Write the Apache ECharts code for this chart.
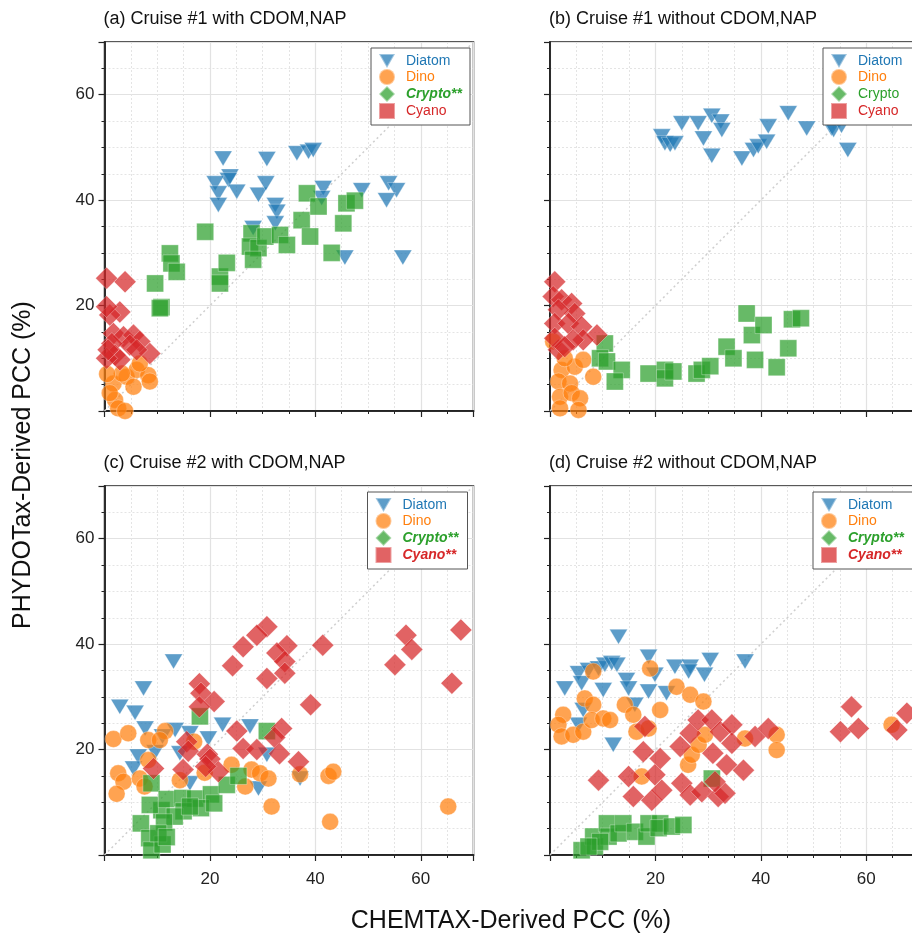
<!DOCTYPE html>
<html>
<head>
<meta charset="utf-8">
<script src="https://cdn.jsdelivr.net/npm/echarts@6/dist/echarts.min.js"></script>
<style>
html, body { margin: 0; padding: 0; background: #fff; }
#chart { width: 912px; height: 937px; }
</style>
</head>
<body>
<div id="chart"></div>
<script>
// axis range and labelled ticks
const axisMin = 0;
const axisMax = 70;
const tickLabels = [20, 40, 60];

// (a) Cruise #1 with CDOM,NAP  [CHEMTAX, PHYDOTax]
const aDiatom = [[22.5,47.9],[30.8,47.8],[36.5,48.9],[38.7,49.2],[39.6,49.5],[23.8,44.5],[23.5,43.8],[21,43.2],[25.1,41.6],[21.6,41.3],[21.6,39.1],[29.2,41],[30.6,43.2],[32.4,39.1],[32.7,37.8],[32.4,35.6],[28.2,34.7],[41.5,42.3],[41.2,40.4],[48.8,41.9],[53.9,43.2],[55.4,41.9],[53.5,40],[45.6,29.1],[56.6,29.1]];
const aDino = [[1.7,5.2],[4.2,6.5],[6.1,7.8],[8.3,6.8],[8.6,5.6],[5.5,4.6],[2,2.1],[1,3.4],[3.3,7.1],[2.6,0.5],[3.9,0],[6.7,9],[0.5,7]];
const aCrypto = [[19.1,34],[12.4,29.9],[12.7,28],[13.7,26.4],[9.6,24.2],[10.8,19.7],[10.5,19.5],[21.9,25.5],[21.9,24.2],[23.2,28.1],[27.9,33.7],[27.6,31.2],[29.2,30.9],[28.2,28.7],[30.5,33.1],[33.3,33.4],[34.6,31.5],[37.4,36.2],[38.4,41.3],[40.6,38.8],[39,33.1],[43.1,30],[45.3,35.6],[45.9,39.4],[47.5,39.9]];
const aCyano = [[3.9,24.5],[0.4,25.2],[2.9,18.8],[1,18.2],[0.4,19.8],[1.7,14.7],[3.6,14.1],[5.5,14.4],[6.7,13.2],[8.6,10.9],[4.8,12.5],[1.4,12.8],[2,10.6],[2.9,9.7],[0.4,10],[0.7,11.6],[6.1,11.6]];

// (b) Cruise #1 without CDOM,NAP
const bDiatom = [[21.2,52.1],[21.8,50.8],[22.8,50.5],[23.7,50.8],[25,54.6],[28.1,54.6],[29.1,51.7],[30.7,56],[30.7,48.4],[32.4,54.9],[32.6,53.3],[36.4,47.9],[38.6,49.5],[39.5,50.2],[41.1,51.1],[41.4,54],[45.2,56.5],[48.7,53.6],[53.4,53.6],[53.8,53.3],[55.3,54.1],[56.5,49.5]];
const bDino = [[2.2,7.8],[4.7,8.4],[6.3,9.7],[8.2,6.5],[1.6,5.6],[3.8,5.2],[1.9,2.7],[4.1,3.4],[5.7,2.4],[1.9,0.5],[5.4,0.2],[2.8,10],[0.6,13.2]];
const bCrypto = [[10.4,12.8],[9.5,10],[10.8,9.4],[13.6,7.8],[12.3,5.6],[18.7,7.1],[21.8,7.8],[21.8,6.2],[23.4,7.5],[27.8,7.1],[28.8,7.8],[30.4,8.5],[33.5,12.2],[34.8,10],[37.3,18.5],[38.3,14.4],[40.5,16.3],[38.9,9.7],[43,8.3],[45.2,11.9],[45.9,17.4],[47.6,17.6]];
const bCyano = [[0.9,24.5],[0.6,21.7],[2.2,21.1],[4.1,20.4],[4.7,18.5],[1.6,19.2],[0.9,16.6],[3.5,16.6],[6,16],[8.9,14.4],[6.3,13.5],[4.4,13.5],[1.6,11.6],[0.9,13.8],[2.8,12.2]];

// (c) Cruise #2 with CDOM,NAP
const cDiatom = [[13.1,36.7],[7.4,31.6],[2.9,28.1],[5.8,27],[7.7,24],[13.4,23.7],[16.2,23.1],[19.7,22.1],[22.4,24.7],[27.6,24.4],[6.4,18.7],[9.6,19.5],[5.5,16.4],[29.2,12.6],[16.2,13.6],[14.3,19.3],[37.1,14.5],[30.8,19],[11,22.5]];
const cDino = [[1.7,22],[4.5,23.1],[8.3,21.8],[11.5,23.5],[10.5,21.8],[2.6,15.5],[3.6,13.9],[2.3,11.6],[6.7,14.5],[8.3,18],[7.6,13],[14.3,14.2],[17,21.5],[19,15.6],[24.1,17.1],[26.7,13],[27.9,16.2],[29.5,15.5],[31.1,14.5],[37.1,15.3],[42.5,15],[43.4,15.8],[31.7,9.2],[42.8,6.3],[65.2,9.2]];
const cCrypto = [[18.1,26.3],[30.8,23.5],[8.9,13.6],[6.9,6],[8.5,3.2],[8.9,0.9],[11,2],[10.8,8.5],[8.6,9.5],[11.8,10.6],[14.8,10.8],[17.2,10.7],[20.2,11.5],[18.3,8.9],[15,8.3],[13.3,7.3],[11.3,6.2],[23.2,13.3],[25.4,15],[20.8,9.8],[16.2,9.2],[10.2,4.1],[11.8,3.4]];
const cCyano = [[30.8,43.3],[28.9,41.7],[26.3,39.5],[34.6,39.7],[32.7,38.3],[34.2,36.7],[34.2,34.5],[30.8,33.5],[24.3,35.9],[41.4,39.8],[57.2,41.7],[58.3,39],[55.1,36.1],[67.6,42.7],[65.9,32.6],[39.1,28.5],[18,32.5],[18.3,30.7],[20.8,29.1],[18,28.1],[25.1,23.5],[33.6,24],[32.3,22.3],[33.2,19.2],[36.8,17.7],[15.6,21.5],[15.9,19.7],[19.5,19.1],[20,18.2],[26.3,20.2],[28.9,20],[9.3,16.4],[14.9,16.2],[21.6,15.8],[19.2,16.8]];

// (d) Cruise #2 without CDOM,NAP
const dDiatom = [[13,41.4],[5.4,34.5],[7.3,35.1],[9.2,35.4],[10.4,36.1],[11.7,36.4],[12.7,36.1],[2.8,31.6],[6,32.6],[10.1,31.3],[14.5,33.2],[14.9,31.6],[18.7,37.6],[19.9,34.2],[18.7,31],[22.1,30.7],[23.7,35.7],[26.6,35.7],[26.3,34.8],[29.3,34.2],[30.4,37],[37,36.7],[12,20.9],[5.4,24.7],[6.3,27.5],[16.1,28.5]];
const dDino = [[8.2,34.8],[19,35.4],[24,31.9],[26.6,30.4],[29.1,29.1],[6.6,29.7],[8.2,28.5],[2.5,26.6],[1.6,24.7],[2.2,22.5],[4.4,22.8],[6.3,23.4],[7.9,25.6],[10.1,25.9],[11.4,25.6],[14.2,28.5],[15.8,26.6],[16.4,23.4],[18.7,24],[20.9,27.5],[26.2,17.1],[26.9,19],[28.2,20.9],[29.4,22.8],[37,22.1],[43,22.8],[43,19.9],[64.8,24.7],[17.4,14.9]];
const dCrypto = [[30.7,14.5],[6,0.9],[8.2,3.5],[8.5,1.6],[10.8,6],[11.1,3.5],[13,4.1],[13.9,6],[16.1,4.4],[18.3,3.5],[18.7,6],[20.9,6],[20.6,5.1],[23.1,5.4],[25.3,5.7],[9.5,2.5],[7.3,1.6]];
const dCyano = [[9.2,14.2],[18,24.4],[17.7,19.6],[20.9,18.3],[14.9,14.9],[19.9,15.2],[15.8,11.1],[19.3,10.4],[21.2,12.3],[25,13.6],[26.6,11.4],[28.8,12],[31.9,11.1],[33.2,11.7],[36.7,16.1],[33.5,17.1],[30.9,19.3],[24.7,20.6],[26.6,23.1],[28.1,25.6],[30.7,25.6],[32.3,23.4],[34.5,24.7],[34.5,21.2],[38.9,22.5],[41.4,24],[57.2,28.1],[55.1,23.4],[58.5,24],[65.8,23.7],[67.7,26.9],[31.3,13.9]];

const FONT = '"Liberation Sans", Arial, Helvetica, sans-serif';
const TRI = 'path://M0,0 L2,0 L1,1.75 Z';

// group styles: plot symbol, legend icon, colours
const groups = [
    { symbol: TRI, size: [18, 15], icon: TRI, fill: 'rgba(31,119,180,0.9)', text: '#1f77b4' },
    { symbol: 'circle', size: 17, icon: 'circle', fill: 'rgba(255,127,14,0.9)', text: '#ff7f0e' },
    { symbol: 'rect', size: 17, icon: 'diamond', fill: 'rgba(44,160,44,0.9)', text: '#2ca02c' },
    { symbol: 'diamond', size: 22, icon: 'rect', fill: 'rgba(214,39,40,0.9)', text: '#d62728' }
];

const panels = [
    { title: '(a) Cruise #1 with CDOM,NAP', left: 104.5, top: 42, showX: false, showY: true, legendX: 266.5, padR: 8,
      names: ['Diatom', 'Dino', 'Crypto**', 'Cyano'], bold: [false, false, true, false],
      data: [aDiatom, aDino, aCrypto, aCyano] },
    { title: '(b) Cruise #1 without CDOM,NAP', left: 550, top: 42, showX: false, showY: false, legendX: 273, padR: 14,
      names: ['Diatom', 'Dino', 'Crypto', 'Cyano'], bold: [false, false, false, false],
      data: [bDiatom, bDino, bCrypto, bCyano] },
    { title: '(c) Cruise #2 with CDOM,NAP', left: 104.5, top: 486, showX: true, showY: true, legendX: 263, padR: 9,
      names: ['Diatom', 'Dino', 'Crypto**', 'Cyano**'], bold: [false, false, true, true],
      data: [cDiatom, cDino, cCrypto, cCyano] },
    { title: '(d) Cruise #2 without CDOM,NAP', left: 550, top: 486, showX: true, showY: false, legendX: 263, padR: 12,
      names: ['Diatom', 'Dino', 'Crypto**', 'Cyano**'], bold: [false, false, true, true],
      data: [dDiatom, dDino, dCrypto, dCyano] }
];

const SIZE = 369;
const grid = [], xAxis = [], yAxis = [], series = [], legend = [], title = [];

const fmt = v => (tickLabels.indexOf(v) >= 0 ? String(v) : '');
const minorAxis = (i, pos) => ({
    gridIndex: i, type: 'value', position: pos, min: axisMin, max: axisMax, interval: 5,
    axisLine: { show: true, onZero: false, lineStyle: { color: '#222', width: 1.5 } },
    axisTick: { show: true, length: 3, lineStyle: { color: '#222', width: 1 } },
    axisLabel: { show: false },
    splitLine: { show: true, lineStyle: { color: '#e4e4e4', width: 1, type: [2, 2] } }
});
const majorAxis = (i, pos, show) => ({
    gridIndex: i, type: 'value', position: pos, min: axisMin, max: axisMax, interval: 20,
    axisLine: { show: true, onZero: false, lineStyle: { color: '#222', width: 1.5 } },
    axisTick: { show: true, length: 6, lineStyle: { color: '#222', width: 1.2 } },
    axisLabel: { show: show, formatter: fmt, fontSize: 17, color: '#222', fontFamily: FONT,
                 margin: pos === 'bottom' ? 16 : 10 },
    splitLine: { show: true, lineStyle: { color: '#e2e2e2', width: 1.2 } }
});

panels.forEach((p, i) => {
    grid.push({ left: p.left, top: p.top, width: SIZE, height: SIZE, show: true,
                outerBoundsMode: 'none', containLabel: false,
                borderColor: '#222', borderWidth: 1.5, backgroundColor: 'transparent' });
    xAxis.push(minorAxis(i, 'bottom'), majorAxis(i, 'bottom', p.showX));
    yAxis.push(minorAxis(i, 'left'), majorAxis(i, 'left', p.showY));
    const xi = 2 * i + 1, yi = 2 * i + 1;
    series.push({
        type: 'line', name: '1:1', xAxisIndex: xi, yAxisIndex: yi, data: [[0, 0], [70, 70]],
        symbol: 'none', silent: true, z: 1,
        lineStyle: { color: '#cfcfcf', width: 1.5, type: [2, 3] }
    });
    p.names.forEach((n, k) => {
        const g = groups[k];
        series.push({
            type: 'scatter', name: n, xAxisIndex: xi, yAxisIndex: yi, data: p.data[k],
            symbol: g.symbol, symbolSize: g.size, clip: true, z: 3,
            itemStyle: { color: g.fill, borderColor: 'rgba(255,255,255,0.5)', borderWidth: 0.8 }
        });
    });
    legend.push({
        orient: 'vertical', left: p.left + p.legendX, top: p.top + 6,
        padding: [5, p.padR, 5, 7], itemWidth: 16, itemHeight: 16, itemGap: -1,
        backgroundColor: '#fff', borderColor: '#555', borderWidth: 1, borderRadius: 0,
        selectedMode: false,
        textStyle: { fontSize: 14, lineHeight: 16, fontFamily: FONT, padding: [0, 0, 0, 6] },
        data: p.names.map((n, k) => ({
            name: n, icon: groups[k].icon,
            textStyle: { color: groups[k].text, fontSize: 14, lineHeight: 16, fontFamily: FONT,
                         fontStyle: p.bold[k] ? 'italic' : 'normal',
                         fontWeight: p.bold[k] ? 'bold' : 'normal' }
        }))
    });
    title.push({
        text: p.title, left: p.left - 1, top: p.top - 32, padding: 0,
        textStyle: { fontSize: 18, fontWeight: 'normal', color: '#111', fontFamily: FONT }
    });
});

const chart = echarts.init(document.getElementById('chart'));
chart.setOption({
    animation: false,
    backgroundColor: '#fff',
    title: title,
    grid: grid,
    xAxis: xAxis,
    yAxis: yAxis,
    legend: legend,
    series: series,
    graphic: [
        { type: 'text', x: 511, y: 921,
          style: { text: 'CHEMTAX-Derived PCC (%)', fontSize: 25, fontFamily: FONT, fill: '#111',
                   textAlign: 'center', textVerticalAlign: 'middle' } },
        { type: 'text', x: 23, y: 465, rotation: Math.PI / 2,
          style: { text: 'PHYDOTax-Derived PCC (%)', fontSize: 25, fontFamily: FONT, fill: '#111',
                   textAlign: 'center', textVerticalAlign: 'middle' } }
    ]
});
</script>
</body>
</html>
